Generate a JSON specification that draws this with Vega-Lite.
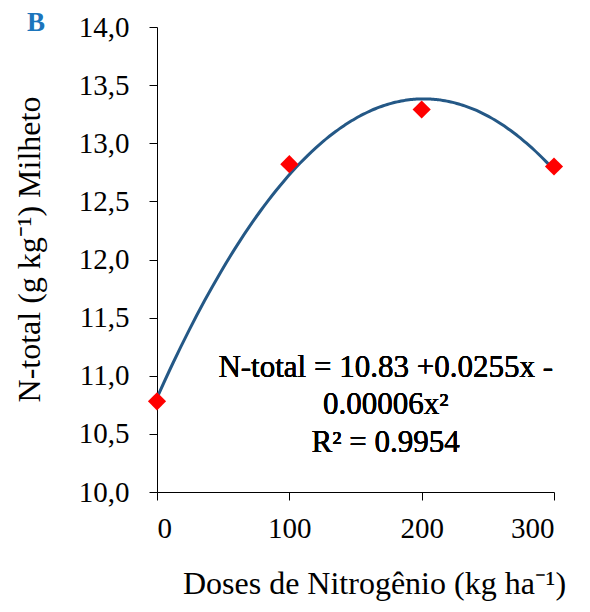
{
  "$schema": "https://vega.github.io/schema/vega-lite/v6.json",
  "width": 397,
  "height": 465,
  "autosize": "none",
  "padding": {"left": 157, "top": 27, "right": 36, "bottom": 120},
  "background": "white",
  "config": {"view": {"stroke": null}, "font": "Liberation Serif, Times New Roman, serif"},
  "title": {"text": "B", "anchor": "start", "frame": "group", "font": "Liberation Serif, Times New Roman, serif", "fontSize": 27, "fontWeight": "bold", "color": "#1C75BC", "baseline": "alphabetic", "dx": -130, "dy": 45, "offset": 0},
  "data": {"values": [
    {"dose": 0, "ntotal": 10.78},
    {"dose": 100, "ntotal": 12.82},
    {"dose": 200, "ntotal": 13.29},
    {"dose": 300, "ntotal": 12.80}
  ]},
  "layer": [
    {
      "transform": [{"regression": "ntotal", "on": "dose", "method": "poly", "order": 2, "extent": [0, 300]}],
      "mark": {"type": "line", "color": "#245886", "strokeWidth": 3, "interpolate": "monotone"},
      "encoding": {
        "x": {"field": "dose", "type": "quantitative"},
        "y": {"field": "ntotal", "type": "quantitative"}
      }
    },
    {
      "mark": {"type": "point", "shape": "diamond", "filled": true, "color": "#FF0000", "size": 330, "opacity": 1},
      "encoding": {
        "x": {"field": "dose", "type": "quantitative",
          "scale": {"domain": [0, 300], "nice": false, "zero": false},
          "axis": {"values": [0, 100, 200, 300], "grid": false, "domainColor": "black", "tickColor": "black", "tickSize": 8, "labelFont": "Liberation Serif, Times New Roman, serif", "labelFontWeight": "normal", "labelFontSize": 29, "labelColor": "black", "labelPadding": 14, "title": "Doses de Nitrogênio (kg ha⁻¹)", "titleFont": "Liberation Serif, Times New Roman, serif", "titleFontSize": 32, "titleFontWeight": "normal", "titleColor": "black", "titleX": 217, "titleY": 101, "titleBaseline": "alphabetic", "titleAlign": "center", "titleAnchor": null}
        },
        "y": {"field": "ntotal", "type": "quantitative",
          "scale": {"domain": [10, 14], "nice": false, "zero": false},
          "axis": {"values": [10, 10.5, 11, 11.5, 12, 12.5, 13, 13.5, 14], "labelExpr": "replace(format(datum.value, '.1f'), '.', ',')", "grid": false, "domainColor": "black", "tickColor": "black", "tickSize": 8, "labelFont": "Liberation Serif, Times New Roman, serif", "labelFontWeight": "normal", "labelFontSize": 29, "labelColor": "black", "labelPadding": 20, "title": "N-total (g kg⁻¹) Milheto", "titleFont": "Liberation Serif, Times New Roman, serif", "titleFontSize": 32, "titleFontWeight": "normal", "titleColor": "black", "titleX": -118, "titleY": 222, "titleBaseline": "alphabetic", "titleAlign": "center", "titleAngle": -90}
        }
      }
    },
    {
      "mark": {"type": "text", "font": "Liberation Serif, Times New Roman, serif", "fontWeight": 400, "fontSize": 31, "color": "black", "align": "center", "baseline": "alphabetic", "lineHeight": 37.5},
      "encoding": {
        "x": {"datum": 172.8, "type": "quantitative"},
        "y": {"datum": 10.99, "type": "quantitative"},
        "text": {"value": ["N-total = 10.83 +0.0255x -", "0.00006x²", "R² = 0.9954"]}
      }
    }
  ]
}
